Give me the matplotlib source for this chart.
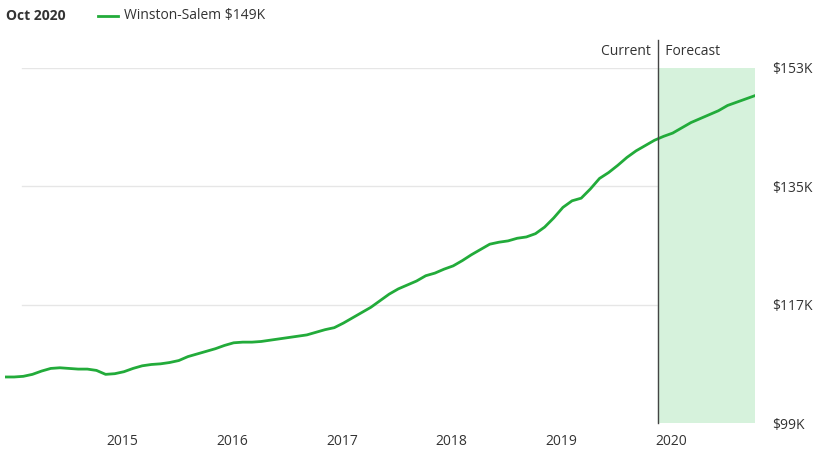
import matplotlib
matplotlib.use("Agg")
import matplotlib.pyplot as plt
import numpy as np

start_year = 2013.93
values = [106.0,
 106.0,106.1,106.4,106.9,107.3,107.4,107.3,107.2,107.2,107.0,106.4,106.5,
 106.8,107.3,107.7,107.9,108.0,108.2,108.5,109.1,109.5,109.9,110.3,110.8,
 111.2,111.3,111.3,111.4,111.6,111.8,112.0,112.2,112.4,112.8,113.2,113.5,
 114.2,115.0,115.8,116.6,117.6,118.6,119.4,120.0,120.6,121.4,121.8,122.4,
 122.9,123.7,124.6,125.4,126.2,126.5,126.7,127.1,127.3,127.8,128.8,130.2,
 131.8,132.8,133.2,134.6,136.2,137.1,138.2,139.4,140.4,141.2,142.0,142.6,
 143.1,143.9,144.7,145.3,145.9,146.5,147.3,147.8,148.3,148.8]
x_ticks = [2015, 2016, 2017, 2018, 2019, 2020]
y_ticks = [99, 117, 135, 153]
y_labels = ["$99K", "$117K", "$135K", "$153K"]
forecast_start = 2019.88

x = start_year + np.arange(len(values)) / 12.0
green = "#22ab3a"

fig = plt.figure(figsize=(8.19, 4.62), dpi=100)
ax = fig.add_axes([5/819, 39/462, 750/819, 355/462])
ax.set_xlim(x[0], x[-1])
ax.set_ylim(99, 153)
for s in ax.spines.values():
    s.set_visible(False)
for yv in y_ticks[1:]:
    ax.axhline(yv, xmin=17/750, xmax=1, color="#e6e6e6", lw=1, zorder=0)
ax.axvspan(forecast_start, x[-1], color="#d6f2dc", zorder=1)
ax.plot(x, values, color=green, lw=2, zorder=3)
ax.axvline(forecast_start, ymin=0, ymax=1.08, color="#444444", lw=1, clip_on=False, zorder=4)
ax.set_xticks(x_ticks)
ax.set_xticklabels([str(t) for t in x_ticks], fontsize=10, color="#333333", family="Open Sans")
ax.tick_params(axis="x", length=0, pad=8)
ax.yaxis.tick_right()
ax.set_yticks(y_ticks)
ax.set_yticklabels(y_labels, fontsize=10, color="#333333", family="Open Sans")
ax.tick_params(axis="y", length=0, pad=12)
ax.text(forecast_start, 155.5, "Current  ", ha="right", va="center", fontsize=10, color="#333333", family="Open Sans")
ax.text(forecast_start, 155.5, "  Forecast", ha="left", va="center", fontsize=10, color="#333333", family="Open Sans")

fig.text(6/819, 1-16/462, "Oct 2020", fontsize=10, fontweight="bold", color="#333333", va="center", family="Open Sans")
fig.add_artist(plt.Line2D([98/819, 118/819], [1-16/462, 1-16/462], color=green, lw=2))
fig.text(124/819, 1-16/462, "Winston-Salem $149K", fontsize=10, color="#333333", va="center", family="Open Sans")

fig.savefig("out.png", dpi=100)
